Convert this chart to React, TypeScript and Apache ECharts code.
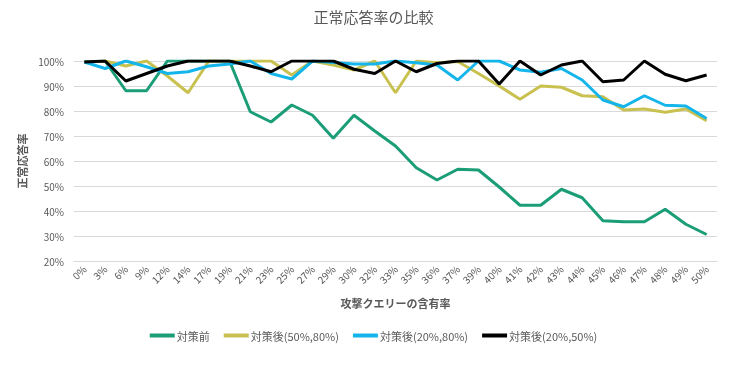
import React, { useEffect, useRef } from "react";
import * as echarts from "echarts";

const categories = ["0%","3%","6%","9%","12%","14%","17%","19%","21%","23%","25%","27%","29%","30%","32%","33%","35%","36%","37%","39%","40%","41%","42%","43%","44%","45%","46%","47%","48%","49%","50%"];

const before = [99.6,100,88.1,88.1,100,100,100,100,79.7,75.6,82.4,78.3,69.1,78.3,72,66,57.3,52.4,56.7,56.4,49.6,42.3,42.3,48.7,45.3,36.1,35.7,35.7,40.7,34.7,30.6];
const after5080 = [99.5,100,98,100,94,87.3,100,100,100,100,94.4,100,98.4,96.4,100,87.3,100,99.3,99.8,95,90,84.7,90,89.5,86.1,85.7,80.4,80.8,79.5,80.8,76.1];
const after2080 = [99.6,97,100,97.7,95,95.7,98,98.8,100,95,92.8,100,99.4,98.8,98.8,100,99.3,98.4,92.4,100,100,96.4,95.5,97,92.4,84.4,81.7,86.1,82.3,82,77];
const after2050 = [99.6,100,92,95,98,100,100,100,98,95.7,100,100,100,96.7,95,100,95.7,99,100,100,90.8,100,94.4,98.4,100,91.7,92.4,100,94.7,92.1,94.4];

const seriesNames = ["対策前", "対策後(50%,80%)", "対策後(20%,80%)", "対策後(20%,50%)"];
const colors = ["#1b9e77", "#c9c14f", "#13b5ea", "#000000"];

export default function App() {
  const ref = useRef<HTMLDivElement>(null);
  useEffect(() => {
    if (!ref.current) return;
    const chart = echarts.init(ref.current, null, { renderer: "svg" });
    const font = "'Noto Sans CJK JP', 'Noto Sans', sans-serif";
    const data = [before, after5080, after2080, after2050];
    chart.setOption({
      animation: false,
      textStyle: { fontFamily: font },
      title: {
        text: "正常応答率の比較",
        left: "center",
        top: 4,
        textStyle: { fontSize: 15, fontWeight: "normal", color: "#595959", fontFamily: font },
      },
      legend: {
        bottom: 20,
        left: "center",
        itemWidth: 25,
        itemHeight: 4,
        itemGap: 14,
        icon: "rect",
        textStyle: { fontSize: 11, color: "#595959", fontFamily: font, padding: [0, 0, 0, -3] },
        data: seriesNames,
      },
      grid: { left: 74, right: 30, top: 61, bottom: 105 },
      xAxis: {
        type: "category",
        data: categories,
        boundaryGap: true,
        name: "攻撃クエリーの含有率",
        nameLocation: "middle",
        nameGap: 36,
        nameTextStyle: { fontSize: 11, color: "#595959", fontWeight: "bold" },
        axisLine: { show: true, lineStyle: { color: "#d9d9d9" } },
        axisTick: { show: false },
        axisLabel: { rotate: 45, fontSize: 10, color: "#595959", interval: 0, margin: 6 },
      },
      yAxis: {
        type: "value",
        min: 20,
        max: 100,
        interval: 10,
        name: "正常応答率",
        nameLocation: "middle",
        nameGap: 46,
        nameRotate: 90,
        nameTextStyle: { fontSize: 11, color: "#595959", fontWeight: "bold" },
        axisLine: { show: false },
        axisTick: { show: false },
        axisLabel: { formatter: "{value}%", fontSize: 10, color: "#595959", margin: 10 },
        splitLine: { lineStyle: { color: "#d9d9d9", width: 1 } },
      },
      series: seriesNames.map((name, i) => ({
        name,
        type: "line",
        data: data[i],
        symbol: "none",
        color: colors[i],
        lineStyle: { width: 3, color: colors[i] },
        z: i + 2,
      })),
    });
    return () => chart.dispose();
  }, []);
  return <div ref={ref} style={{ position: "fixed", left: 0, top: 0, width: 747, height: 366 }} />;
}
